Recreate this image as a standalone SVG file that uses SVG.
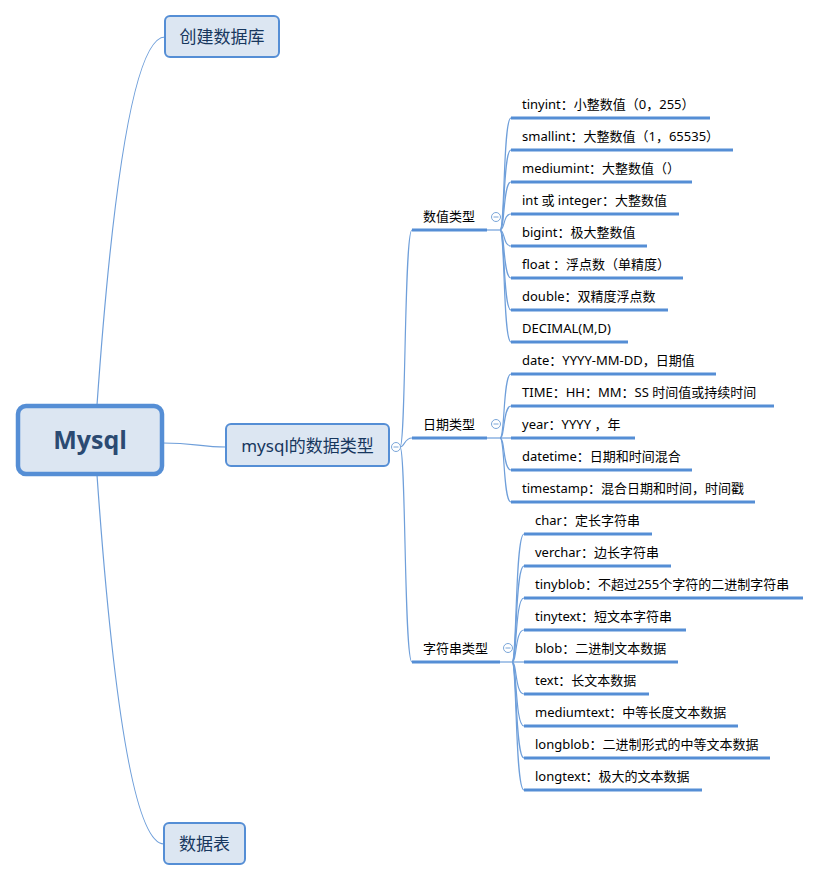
<svg xmlns="http://www.w3.org/2000/svg" width="821" height="881" viewBox="0 0 821 881">
<style>
.node{fill:#dce6f2;stroke:#558ed5;stroke-width:2}
.root{fill:#dce6f2;stroke:#558ed5;stroke-width:4.5}
.nt{font-family:"Noto Sans","Noto Sans CJK SC",sans-serif;font-size:17px;fill:#17375e;text-anchor:middle}
.rt{font-family:"Open Sans","Noto Sans CJK SC",sans-serif;font-size:25px;font-weight:bold;fill:#2b4a72;text-anchor:middle}
.t{font-family:"Noto Sans","Noto Sans CJK SC",sans-serif;font-size:13px;fill:#000}
.ul{stroke:#558ed5;stroke-width:3;fill:none}
.c{stroke:#6f9fda;stroke-width:1.2;fill:none}
.tog{fill:#fff;stroke:#7aa6d9;stroke-width:1}
.togm{stroke:#7aa6d9;stroke-width:1}
</style>
<rect width="821" height="881" fill="#fff"/>
<g id="connectors">
<path class="c" d="M97,405 Q123,37 165,37"/>
<path class="c" d="M97,475 Q123,844 164,844"/>
<path class="c" d="M163,443 C195,443 200,447 226,447"/>
<path class="c" d="M400,447 C406,447 404,230 412,230"/>
<path class="c" d="M400,447 C405,447 404,438 412,438"/>
<path class="c" d="M400,447 C406,447 404,662 412,662"/>
<path class="c" d="M487,230 L500,230"/>
<path class="c" d="M487,438 L500,438"/>
<path class="c" d="M500,662 L512,662"/>
<g id="num-branches">
<path class="c" d="M500,230 C505,230 503,118 511,118"/>
<path class="c" d="M500,230 C505,230 503,150 511,150"/>
<path class="c" d="M500,230 C505,230 503,182 511,182"/>
<path class="c" d="M500,230 C505,230 503,214 511,214"/>
<path class="c" d="M500,230 C505,230 503,246 511,246"/>
<path class="c" d="M500,230 C505,230 503,278 511,278"/>
<path class="c" d="M500,230 C505,230 503,310 511,310"/>
<path class="c" d="M500,230 C505,230 503,342 511,342"/>
</g>
<g id="date-branches">
<path class="c" d="M500,438 C505,438 503,374 511,374"/>
<path class="c" d="M500,438 C505,438 503,406 511,406"/>
<path class="c" d="M500,438 L511,438"/>
<path class="c" d="M500,438 C505,438 503,470 511,470"/>
<path class="c" d="M500,438 C505,438 503,502 511,502"/>
</g>
<g id="str-branches">
<path class="c" d="M512,662 C517,662 515,534 524,534"/>
<path class="c" d="M512,662 C517,662 515,566 524,566"/>
<path class="c" d="M512,662 C517,662 515,598 524,598"/>
<path class="c" d="M512,662 C517,662 515,630 524,630"/>
<path class="c" d="M512,662 L524,662"/>
<path class="c" d="M512,662 C517,662 515,694 524,694"/>
<path class="c" d="M512,662 C517,662 515,726 524,726"/>
<path class="c" d="M512,662 C517,662 515,758 524,758"/>
<path class="c" d="M512,662 C517,662 515,790 524,790"/>
</g>
</g>
<g id="root">
<rect class="root" x="18" y="406" width="144" height="68" rx="8"/>
<text class="rt" x="90" y="449">Mysql</text>
</g>
<g id="n-create">
<rect class="node" x="165" y="16" width="114" height="41" rx="5"/>
<text class="nt" x="222" y="43">创建数据库</text>
</g>
<g id="n-table">
<rect class="node" x="164" y="823" width="81" height="41" rx="5"/>
<text class="nt" x="204.5" y="850">数据表</text>
</g>
<g id="n-types">
<rect class="node" x="226" y="424" width="163" height="42" rx="5"/>
<text class="nt" x="307.5" y="452">mysql的数据类型</text>
<circle class="tog" cx="396" cy="447" r="4.5"/>
<line class="togm" x1="393.5" y1="447" x2="398.5" y2="447"/>
</g>
<g id="c-num">
<text class="t" x="423" y="221">数值类型</text>
<line class="ul" x1="412" y1="230" x2="487" y2="230"/>
<circle class="tog" cx="496" cy="217" r="4.5"/>
<line class="togm" x1="493.5" y1="217" x2="498.5" y2="217"/>
</g>
<g id="c-date">
<text class="t" x="423" y="429">日期类型</text>
<line class="ul" x1="412" y1="438" x2="487" y2="438"/>
<circle class="tog" cx="496" cy="424" r="4.5"/>
<line class="togm" x1="493.5" y1="424" x2="498.5" y2="424"/>
</g>
<g id="c-str">
<text class="t" x="423" y="653">字符串类型</text>
<line class="ul" x1="412" y1="662" x2="500" y2="662"/>
<circle class="tog" cx="508" cy="648" r="4.5"/>
<line class="togm" x1="505.5" y1="648" x2="510.5" y2="648"/>
</g>
<g id="num-items">
<g id="n1"><text class="t" x="522" y="109">tinyint：小整数值（0，255）</text><line class="ul" x1="511" y1="118" x2="710" y2="118"/></g>
<g id="n2"><text class="t" x="522" y="141">smallint：大整数值（1，65535）</text><line class="ul" x1="511" y1="150" x2="733" y2="150"/></g>
<g id="n3"><text class="t" x="522" y="173">mediumint：大整数值（）</text><line class="ul" x1="511" y1="182" x2="692" y2="182"/></g>
<g id="n4"><text class="t" x="522" y="205">int 或 integer：大整数值</text><line class="ul" x1="511" y1="214" x2="679" y2="214"/></g>
<g id="n5"><text class="t" x="522" y="237">bigint：极大整数值</text><line class="ul" x1="511" y1="246" x2="647" y2="246"/></g>
<g id="n6"><text class="t" x="522" y="269">float ：浮点数（单精度）</text><line class="ul" x1="511" y1="278" x2="683" y2="278"/></g>
<g id="n7"><text class="t" x="522" y="301">double：双精度浮点数</text><line class="ul" x1="511" y1="310" x2="668" y2="310"/></g>
<g id="n8"><text class="t" x="522" y="333">DECIMAL(M,D)</text><line class="ul" x1="511" y1="342" x2="628" y2="342"/></g>
</g>
<g id="date-items">
<g id="d1"><text class="t" x="522" y="365">date：YYYY-MM-DD，日期值</text><line class="ul" x1="511" y1="374" x2="716" y2="374"/></g>
<g id="d2"><text class="t" x="522" y="397">TIME：HH：MM：SS 时间值或持续时间</text><line class="ul" x1="511" y1="406" x2="774" y2="406"/></g>
<g id="d3"><text class="t" x="522" y="429">year：YYYY ，年</text><line class="ul" x1="511" y1="438" x2="635" y2="438"/></g>
<g id="d4"><text class="t" x="522" y="461">datetime：日期和时间混合</text><line class="ul" x1="511" y1="470" x2="692" y2="470"/></g>
<g id="d5"><text class="t" x="522" y="493">timestamp：混合日期和时间，时间戳</text><line class="ul" x1="511" y1="502" x2="755" y2="502"/></g>
</g>
<g id="str-items">
<g id="s1"><text class="t" x="535" y="525">char：定长字符串</text><line class="ul" x1="524" y1="534" x2="652" y2="534"/></g>
<g id="s2"><text class="t" x="535" y="557">verchar：边长字符串</text><line class="ul" x1="524" y1="566" x2="671" y2="566"/></g>
<g id="s3"><text class="t" x="535" y="589">tinyblob：不超过255个字符的二进制字符串</text><line class="ul" x1="524" y1="598" x2="803" y2="598"/></g>
<g id="s4"><text class="t" x="535" y="621">tinytext：短文本字符串</text><line class="ul" x1="524" y1="630" x2="686" y2="630"/></g>
<g id="s5"><text class="t" x="535" y="653">blob：二进制文本数据</text><line class="ul" x1="524" y1="662" x2="678" y2="662"/></g>
<g id="s6"><text class="t" x="535" y="685">text：长文本数据</text><line class="ul" x1="524" y1="694" x2="649" y2="694"/></g>
<g id="s7"><text class="t" x="535" y="717">mediumtext：中等长度文本数据</text><line class="ul" x1="524" y1="726" x2="738" y2="726"/></g>
<g id="s8"><text class="t" x="535" y="749">longblob：二进制形式的中等文本数据</text><line class="ul" x1="524" y1="758" x2="770" y2="758"/></g>
<g id="s9"><text class="t" x="535" y="781">longtext：极大的文本数据</text><line class="ul" x1="524" y1="790" x2="702" y2="790"/></g>
</g>
</svg>
